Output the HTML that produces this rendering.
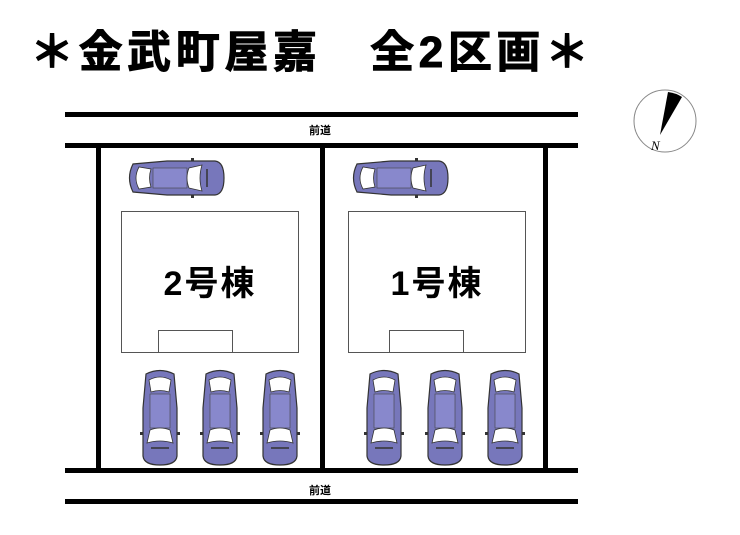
<!DOCTYPE html>
<html><head><meta charset="utf-8"><style>
html,body{margin:0;padding:0;background:#fff;}
body{width:740px;height:530px;overflow:hidden;position:relative;}
</style></head><body>
<svg width="740" height="530" viewBox="0 0 740 530" xmlns="http://www.w3.org/2000/svg">
<defs>
<g id="carv">
<path d="M6 6 Q20 -1 34 6 L37 40 L37 88 Q36 97 20 97 Q4 97 3 88 L3 40 Z" fill="#7777bb" stroke="#333" stroke-width="1.2"/>
<path d="M9 12 Q20 6 31 12 L29 24 Q20 21 11 24 Z" fill="#fff" stroke="#333" stroke-width="0.8"/>
<rect x="10" y="26" width="20" height="34" fill="#8888cc" stroke="#444" stroke-width="0.6"/>
<path d="M10 62 Q20 58 30 62 L33 75 Q20 71 7 75 Z" fill="#fff" stroke="#333" stroke-width="0.8"/>
<line x1="11" y1="80" x2="29" y2="80" stroke="#333" stroke-width="1.5"/>
<rect x="0" y="64" width="3" height="3" fill="#333"/><rect x="37" y="64" width="3" height="3" fill="#333"/>
</g>
<g id="carh">
<path d="M6 6 Q-1 20 6 34 L40 37 L88 37 Q97 36 97 20 Q97 4 88 3 L40 3 Z" fill="#7777bb" stroke="#333" stroke-width="1.2"/>
<path d="M12 9 Q6 20 12 31 L24 29 Q21 20 24 11 Z" fill="#fff" stroke="#333" stroke-width="0.8"/>
<rect x="26" y="10" width="34" height="20" fill="#8888cc" stroke="#444" stroke-width="0.6"/>
<path d="M62 10 Q58 20 62 30 L75 33 Q71 20 75 7 Z" fill="#fff" stroke="#333" stroke-width="0.8"/>
<line x1="80" y1="11" x2="80" y2="29" stroke="#333" stroke-width="1.5"/>
<rect x="64" y="0" width="3" height="3" fill="#333"/><rect x="64" y="37" width="3" height="3" fill="#333"/>
</g>
</defs>
<text x="30" y="67" font-family="Liberation Sans,'Noto Sans CJK JP',sans-serif" font-size="44" font-weight="bold" fill="#000" stroke="#000" stroke-width="1" letter-spacing="6" textLength="565" lengthAdjust="spacing">＊金武町屋嘉　全2区画＊</text>
<rect x="65" y="112" width="513" height="5" fill="#000"/>
<rect x="65" y="143" width="513" height="5" fill="#000"/>
<rect x="65" y="468" width="513" height="5" fill="#000"/>
<rect x="65" y="499" width="513" height="5" fill="#000"/>
<text x="320" y="134" font-family="Liberation Sans,'Noto Sans CJK JP',sans-serif" font-size="11" font-weight="bold" text-anchor="middle">前道</text>
<text x="320" y="494" font-family="Liberation Sans,'Noto Sans CJK JP',sans-serif" font-size="11" font-weight="bold" text-anchor="middle">前道</text>
<rect x="96" y="145" width="5" height="326" fill="#000"/>
<rect x="320" y="145" width="5" height="326" fill="#000"/>
<rect x="543" y="145" width="5" height="326" fill="#000"/>
<rect x="121.5" y="211.5" width="177" height="141" fill="#fff" stroke="#555" stroke-width="1"/>
<rect x="158.5" y="330.5" width="74" height="22" fill="#fff" stroke="#555" stroke-width="1"/>
<rect x="348.5" y="211.5" width="177" height="141" fill="#fff" stroke="#555" stroke-width="1"/>
<rect x="389.5" y="330.5" width="74" height="22" fill="#fff" stroke="#555" stroke-width="1"/>
<text x="210" y="295" font-family="Liberation Sans,'Noto Sans CJK JP',sans-serif" font-size="34" font-weight="bold" text-anchor="middle" letter-spacing="2">2号棟</text>
<text x="437" y="295" font-family="Liberation Sans,'Noto Sans CJK JP',sans-serif" font-size="34" font-weight="bold" text-anchor="middle" letter-spacing="2">1号棟</text>
<use href="#carh" x="127" y="158"/>
<use href="#carh" x="351" y="158"/>
<use href="#carv" x="140" y="368"/>
<use href="#carv" x="200" y="368"/>
<use href="#carv" x="260" y="368"/>
<use href="#carv" x="364" y="368"/>
<use href="#carv" x="425" y="368"/>
<use href="#carv" x="485" y="368"/>
<circle cx="665" cy="121" r="31" fill="#fff" stroke="#888" stroke-width="1"/>
<path d="M668 92 Q676 93 682 97 L660 135 Z" fill="#000"/>
<text x="651" y="150" font-family="Liberation Serif,serif" font-size="13" font-style="italic">N</text>
</svg>
</body></html>
